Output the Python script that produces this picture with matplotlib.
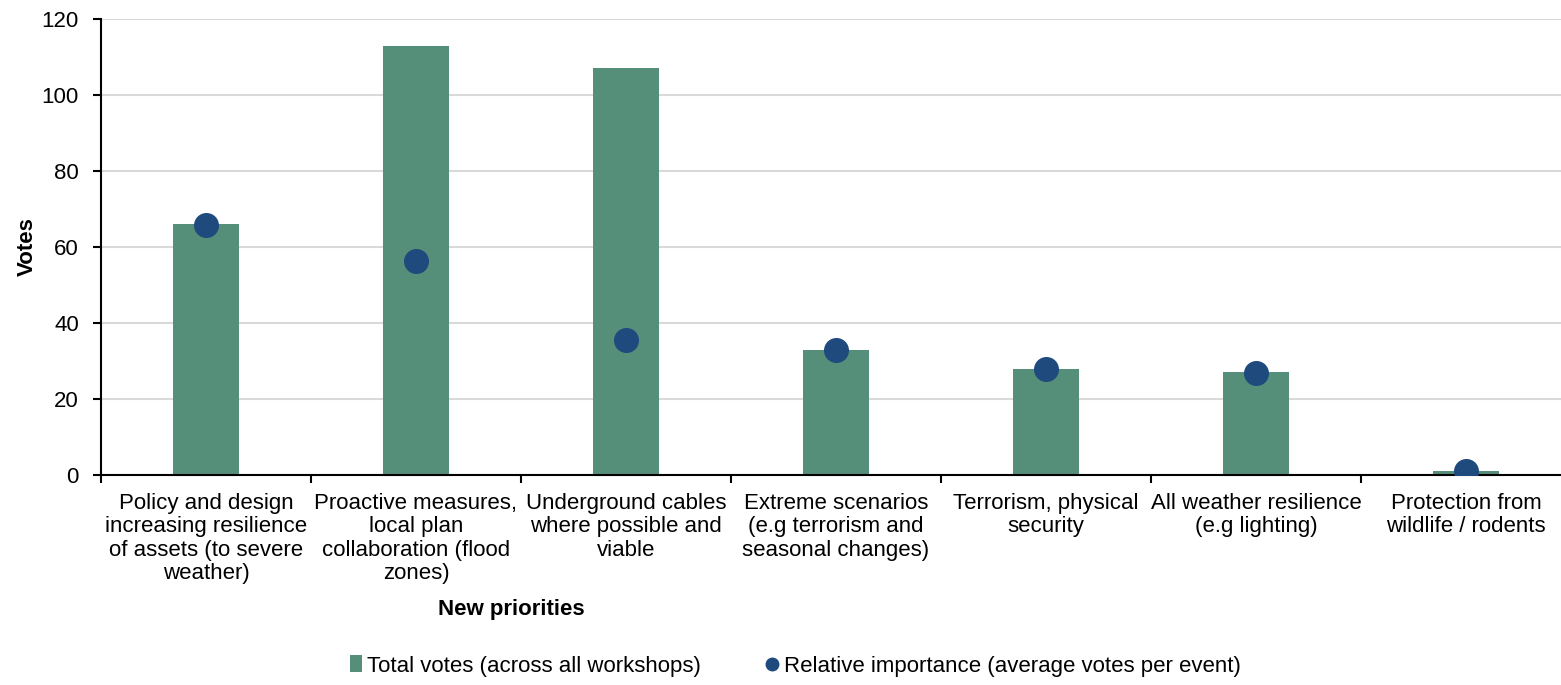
import matplotlib
matplotlib.use("Agg")
import matplotlib.pyplot as plt
from matplotlib.lines import Line2D
from matplotlib.patches import Patch
import numpy as np

plt.rcParams['font.family'] = ['Liberation Sans', 'DejaVu Sans']

categories = [
    "Policy and design\nincreasing resilience\nof assets (to severe\nweather)",
    "Proactive measures,\nlocal plan\ncollaboration (flood\nzones)",
    "Underground cables\nwhere possible and\nviable",
    "Extreme scenarios\n(e.g terrorism and\nseasonal changes)",
    "Terrorism, physical\nsecurity",
    "All weather resilience\n(e.g lighting)",
    "Protection from\nwildlife / rodents",
]
total_votes = [66, 113, 107, 33, 28, 27, 1]
relative_importance = [65.7, 56.4, 35.5, 32.9, 27.8, 26.8, 1.0]
y_ticks = [0, 20, 40, 60, 80, 100, 120]
series_labels = ["Total votes (across all workshops)",
                 "Relative importance (average votes per event)"]

bar_color = "#568F79"
dot_color = "#1F4A7E"
fs = 16

fig = plt.figure(figsize=(15.61, 6.85), dpi=100)
ax = fig.add_axes([101 / 1561, 1 - 475 / 685, 1470 / 1561, 456 / 685])

x = np.arange(len(categories))
ax.bar(x, total_votes, width=0.31, color=bar_color, zorder=2)
ax.plot(x, relative_importance, linestyle="none", marker="o", markersize=17,
        color=dot_color, zorder=3)

ax.set_xlim(-0.5, len(categories) - 0.5)
ax.set_ylim(0, 120)
ax.set_yticks(y_ticks)
ax.tick_params(axis="y", labelsize=fs, length=6, width=1.5, direction="out", pad=10)
ax.yaxis.grid(True, color="#D9D9D9", linewidth=1.5, zorder=0)
ax.set_axisbelow(True)

# category labels centred under bars, ticks on boundaries
ax.set_xticks(np.arange(len(categories) + 1) - 0.5)
ax.set_xticklabels([])
ax.tick_params(axis="x", length=6, width=1.5, direction="out")
ax.set_xticks(x, minor=True)
ax.set_xticklabels(categories, minor=True, fontsize=fs, linespacing=1.15)
ax.tick_params(axis="x", which="minor", length=0, pad=13)

for s in ["top", "right"]:
    ax.spines[s].set_visible(False)
for s in ["left", "bottom"]:
    ax.spines[s].set_linewidth(1.5)
    ax.spines[s].set_color("black")

fig.text(27 / 1561, 1 - 247 / 685, "Votes", fontsize=fs, fontweight="bold",
         rotation=90, ha="center", va="center")
fig.text(511 / 1561, 1 - 609 / 685, "New priorities", fontsize=fs,
         fontweight="bold", ha="center", va="center")

h = [Patch(facecolor=bar_color, edgecolor="none"),
     Line2D([], [], linestyle="none", marker="o", markersize=9, color=dot_color)]
fig.legend(h, series_labels, loc="center", bbox_to_anchor=(795 / 1561, 1 - 666 / 685),
           ncol=2, frameon=False, fontsize=fs, handlelength=0.55,
           handleheight=0.8, handletextpad=0.25, columnspacing=2.9)

fig.savefig("out.png", dpi=100)
